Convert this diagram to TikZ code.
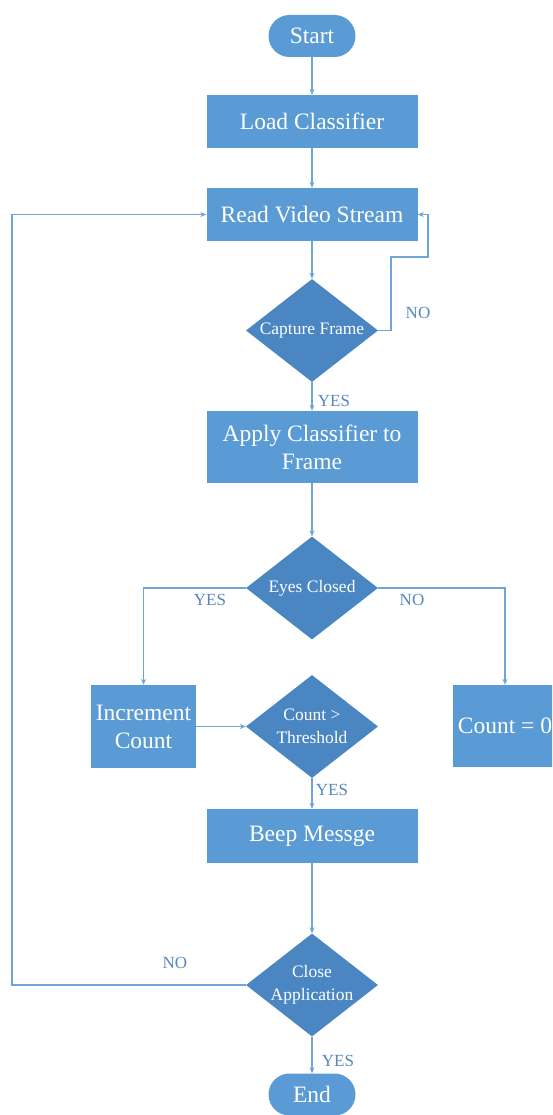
\documentclass[tikz,border=0pt]{standalone}
\usepackage{fontspec}
\setmainfont{Liberation Serif}
\usetikzlibrary{shapes.geometric,arrows.meta}

\definecolor{boxblue}{RGB}{91,155,213}
\definecolor{diablue}{RGB}{74,134,194}
\definecolor{lineblue}{RGB}{110,165,218}
\definecolor{lblblue}{RGB}{86,134,192}

\begin{document}
\begin{tikzpicture}[x=1pt, y=-1pt,
    box/.style={rectangle, fill=boxblue, text=white, minimum width=211pt, minimum height=53pt, inner sep=0pt, align=center, font=\fontsize{23.5}{28}\selectfont},
    term/.style={rectangle, rounded corners=21pt, fill=boxblue, text=white, minimum width=87pt, minimum height=42pt, inner sep=0pt, font=\fontsize{23.5}{28}\selectfont},
    decision/.style={diamond, aspect=1.28, fill=diablue, text=white, minimum width=132pt, minimum height=103pt, inner sep=0pt, align=center, font=\fontsize{17.5}{22.5}\selectfont},
    lbl/.style={text=lblblue, inner sep=0pt, font=\fontsize{17}{20}\selectfont},
    arrow/.style={-{Stealth[length=6pt,width=5pt]}, line width=1.1pt, draw=lineblue}
]
    \useasboundingbox (0,0) rectangle (552,1115);
    \clip (0,0) rectangle (552,1115);

    % Main column
    \node[term] (start) at (312,36) {Start};
    \node[box] (load) at (312,121.5) {Load Classifier};
    \node[box] (read) at (312,214.5) {Read Video Stream};
    \node[decision] (cap) at (312,330.5) {Capture Frame};
    \node[box, minimum height=72pt] (apply) at (312,447) {Apply Classifier to\\Frame};
    \node[decision] (eyes) at (312,588) {Eyes Closed};
    \node[box, minimum width=105pt, minimum height=83pt] (inc) at (143.5,726.5) {Increment\\Count};
    \node[decision] (thr) at (312,726.5) {Count >\\Threshold};
    \node[box, minimum width=104pt, minimum height=82pt] (zero) at (505,726) {Count = 0};
    \node[box, minimum height=54pt] (beep) at (312,836) {Beep Messge};
    \node[decision] (close) at (312,985) {Close\\Application};
    \node[term] (end) at (312,1094.5) {End};

    % Corner points
    \coordinate (noa) at (391,257);
    \coordinate (nob) at (428,257);
    \coordinate (back) at (12,600);

    % Labels
    \node[lbl] (nocap) at (418,313) {NO};
    \node[lbl] (yescap) at (334,401) {YES};
    \node[lbl] (yeseyes) at (210,600) {YES};
    \node[lbl] (noeyes) at (412,600) {NO};
    \node[lbl] (yesthr) at (332,790) {YES};
    \node[lbl] (noclose) at (175,963) {NO};
    \node[lbl] (yesclose) at (338,1061) {YES};

    % Arrows
    \draw[arrow] (start) -- (load);
    \draw[arrow] (load) -- (read);
    \draw[arrow] (read) -- (cap);
    \draw[arrow] (cap.east) -| (noa) -- (nob) |- (read.east);
    \draw[arrow] (cap) -- (apply);
    \draw[arrow] (apply) -- (eyes);
    \draw[arrow] (eyes.west) -| (inc.north);
    \draw[arrow] (eyes.east) -| (zero.north);
    \draw[arrow] (inc) -- (thr);
    \draw[arrow] (thr) -- (beep);
    \draw[arrow] (beep) -- (close);
    \draw[arrow] (close.west) -| (back) |- (read.west);
    \draw[arrow] (close) -- (end);
\end{tikzpicture}
\end{document}
